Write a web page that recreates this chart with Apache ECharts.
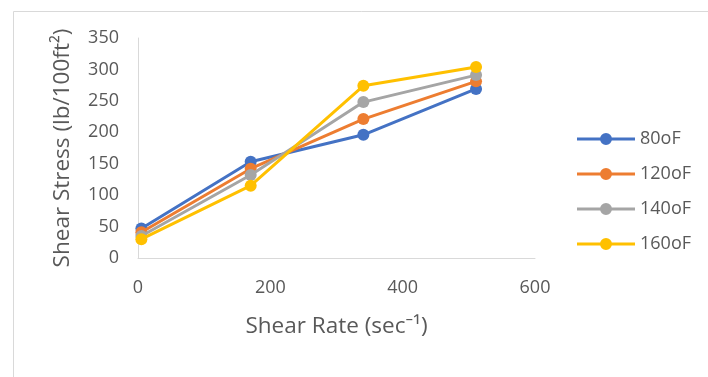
<!DOCTYPE html>
<html>
<head>
<meta charset="utf-8">
<script src="https://cdn.jsdelivr.net/npm/echarts@6/dist/echarts.min.js"></script>
<style>
  html, body { margin: 0; padding: 0; background: #fff; }
  #chart { width: 708px; height: 377px; }
</style>
</head>
<body>
<div id="chart"></div>
<script>
// Shear rate (sec^-1) at the four viscometer speeds
const shearRate = [5.11, 170.3, 340.6, 510.9];

// Shear stress (lb/100ft^2) at each temperature
const temperatures = ['80oF', '120oF', '140oF', '160oF'];
const stress80 = [47, 153, 196, 269];
const stress120 = [41, 142, 221, 281];
const stress140 = [35, 132, 248, 291];
const stress160 = [30, 115, 274, 304];

const stressSets = [stress80, stress120, stress140, stress160];
const colors = ['#4472C4', '#ED7D31', '#A5A5A5', '#FFC000'];

const textColor = '#595959';
const fontFamily = '"Open Sans", "Noto Sans", sans-serif';

// Legend swatch: two line segments with a round marker between them
const lineMarkerIcon = 'path://M0,4.5 L23.5,4.5 L23.5,7.5 L0,7.5 Z ' +
  'M34.5,4.5 L58,4.5 L58,7.5 L34.5,7.5 Z ' +
  'M23,6 A6,6 0 1,1 35,6 A6,6 0 1,1 23,6 Z';

const chart = echarts.init(document.getElementById('chart'), null, { renderer: 'canvas' });

const series = temperatures.map((name, i) => ({
  name: name,
  type: 'line',
  data: shearRate.map((x, j) => [x, stressSets[i][j]]),
  symbol: 'circle',
  symbolSize: 12,
  lineStyle: { width: 3, color: colors[i] },
  itemStyle: { color: colors[i] },
  emphasis: { disabled: true },
  z: 2 + i
}));

chart.setOption({
  animation: false,
  backgroundColor: '#ffffff',
  color: colors,
  graphic: [{
    type: 'rect',
    left: 11,
    top: 9,
    shape: { width: 720, height: 400 },
    style: { fill: 'none', stroke: '#d9d9d9', lineWidth: 1 },
    silent: true
  }],
  grid: { left: 138, top: 38, right: 173, bottom: 119, containLabel: false },
  legend: {
    orient: 'vertical',
    left: 572,
    top: 125,
    itemWidth: 58,
    itemHeight: 12,
    itemGap: 17,
    data: temperatures.map(t => ({ name: t, icon: lineMarkerIcon })),
    textStyle: { color: textColor, fontSize: 18, fontFamily: fontFamily },
    itemStyle: { borderWidth: 0 }
  },
  xAxis: {
    type: 'value',
    min: 0,
    max: 600,
    interval: 200,
    name: 'Shear Rate (sec\u207B\u00B9)',
    nameLocation: 'middle',
    nameGap: 57,
    nameTextStyle: { color: textColor, fontSize: 22.5, fontFamily: fontFamily },
    axisLine: { show: true, lineStyle: { color: '#d9d9d9', width: 1 } },
    axisTick: { show: false },
    splitLine: { show: false },
    axisLabel: { color: textColor, fontSize: 18, fontFamily: fontFamily, margin: 21 }
  },
  yAxis: {
    type: 'value',
    min: 0,
    max: 350,
    interval: 50,
    name: 'Shear Stress (lb/100ft\u00B2)',
    nameLocation: 'middle',
    nameGap: 64,
    nameTextStyle: { color: textColor, fontSize: 22.5, fontFamily: fontFamily },
    axisLine: { show: true, lineStyle: { color: '#d9d9d9', width: 1 } },
    axisTick: { show: false },
    splitLine: { show: false },
    axisLabel: { color: textColor, fontSize: 18, fontFamily: fontFamily, margin: 19 }
  },
  series: series
});
</script>
</body>
</html>
